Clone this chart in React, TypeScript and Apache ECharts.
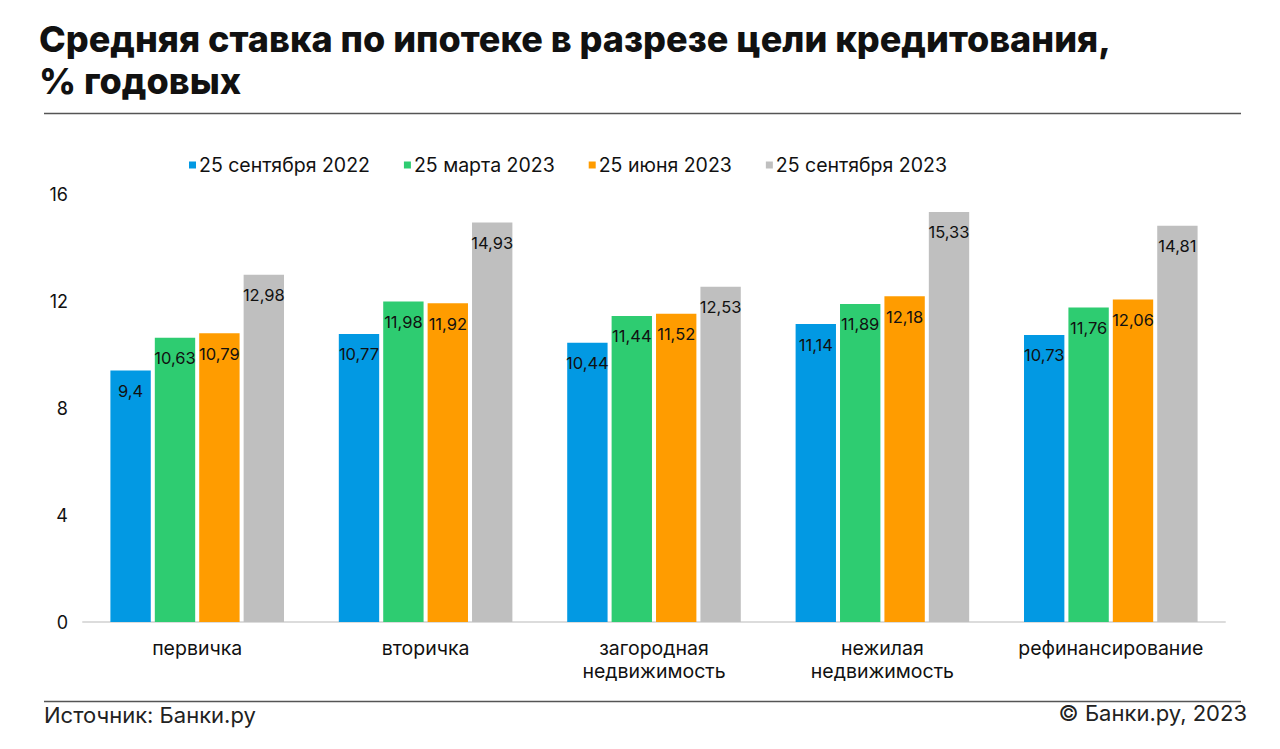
import React, { useEffect, useRef } from "react";
import * as echarts from "echarts";

const categories = ["первичка", "вторичка", "загородная\nнедвижимость", "нежилая\nнедвижимость", "рефинансирование"];
const seriesNames = ["25 сентября 2022", "25 марта 2023", "25 июня 2023", "25 сентября 2023"];
const sep2022 = [9.4, 10.77, 10.44, 11.14, 10.73];
const mar2023 = [10.63, 11.98, 11.44, 11.89, 11.76];
const jun2023 = [10.79, 11.92, 11.52, 12.18, 12.06];
const sep2023 = [12.98, 14.93, 12.53, 15.33, 14.81];
const colors = ["#0299e3", "#2ecc71", "#ff9c00", "#bfbfbf"];
const yTicks = [0, 4, 8, 12, 16];

const FONT = "Inter, 'Noto Sans', sans-serif";

export default function App() {
  const ref = useRef<HTMLDivElement>(null);
  useEffect(() => {
    if (!ref.current) return;
    const chart = echarts.init(ref.current, null, { renderer: "svg" });
    const data = [sep2022, mar2023, jun2023, sep2023];
    chart.setOption({
      animation: false,
      backgroundColor: "#ffffff",
      textStyle: { fontFamily: FONT },
      legend: {
        left: 184,
        top: 150,
        itemWidth: 7,
        itemHeight: 7,
        itemGap: 34,
        icon: "rect",
        textStyle: { fontSize: 19.5, color: "#111", fontFamily: FONT, padding: [0, 0, 0, -2] },
        data: seriesNames,
      },
      grid: { left: 83, right: 55, top: 194, bottom: 127 },
      xAxis: {
        type: "category",
        data: categories,
        axisLine: { lineStyle: { color: "#dcdcdc", width: 2 } },
        axisTick: { show: false },
        axisLabel: {
          interval: 0,
          hideOverlap: false,
          fontSize: 19.5,
          color: "#111",
          margin: 14,
          lineHeight: 23,
          fontFamily: FONT,
        },
      },
      yAxis: {
        type: "value",
        min: yTicks[0],
        max: yTicks[yTicks.length - 1],
        interval: 4,
        axisLine: { show: false },
        axisTick: { show: false },
        splitLine: { show: false },
        axisLabel: { fontSize: 18, color: "#111", margin: 15, fontFamily: FONT },
      },
      series: seriesNames.map((name, i) => ({
        name,
        type: "bar",
        data: data[i],
        barGap: "10%",
        barCategoryGap: "24%",
        itemStyle: { color: colors[i] },
        label: {
          show: true,
          position: "insideTop",
          distance: 12,
          fontSize: 16.5,
          color: "#111",
          fontFamily: FONT,
          formatter: (p: any) => String(p.value).replace(".", ","),
        },
      })),
      graphic: [
        {
          type: "text",
          left: 39,
          top: 18,
          style: {
            text: "Средняя ставка по ипотеке в разрезе цели кредитования,\n% годовых",
            fontSize: 36,
            fontWeight: 800,
            lineHeight: 42,
            fill: "#111",
            fontFamily: FONT,
          },
        },
        {
          type: "line",
          shape: { x1: 44, y1: 113.5, x2: 1241, y2: 113.5 },
          style: { stroke: "#555", lineWidth: 1.5 },
        },
        {
          type: "line",
          shape: { x1: 44, y1: 701.5, x2: 1241, y2: 701.5 },
          style: { stroke: "#555", lineWidth: 1.5 },
        },
        {
          type: "text",
          left: 44,
          top: 704,
          style: { text: "Источник: Банки.ру", fontSize: 22, fill: "#222", fontFamily: FONT },
        },
        {
          type: "text",
          right: 33,
          top: 702,
          style: { text: "© Банки.ру, 2023", fontSize: 22, fill: "#222", fontFamily: FONT },
        },
      ],
    });
    return () => chart.dispose();
  }, []);
  return <div ref={ref} style={{ position: "fixed", left: 0, top: 0, width: 1280, height: 749 }} />;
}
